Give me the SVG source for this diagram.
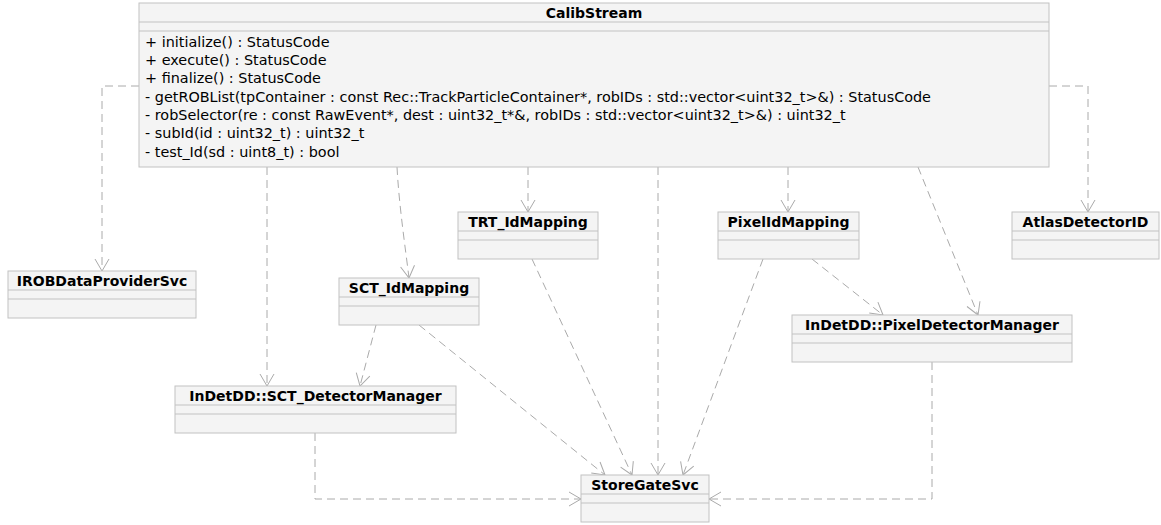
<svg xmlns="http://www.w3.org/2000/svg" width="1161" height="525" viewBox="0 0 1161 525">
<style>
.box{fill:#f4f4f4;stroke:#c2c2c2;stroke-width:1}
.sep{stroke:#c2c2c2;stroke-width:1}
.t{font-family:"DejaVu Sans","Liberation Sans",sans-serif;font-size:14px;font-weight:bold;fill:#000;text-anchor:middle}
.m{font-family:"DejaVu Sans","Liberation Sans",sans-serif;font-size:14.4px;fill:#000}
.c{fill:none;stroke:#aaaaaa;stroke-width:1;stroke-dasharray:8,5}
</style>
<defs>
<marker id="arr" markerUnits="userSpaceOnUse" markerWidth="16" markerHeight="16" refX="13" refY="8" orient="auto">
<path d="M1,1 L13,8 L1,15" fill="none" stroke="#aaaaaa" stroke-width="1" stroke-dasharray="none"/>
</marker>
</defs>
<g id="connectors">
<path class="c" d="M139,86 H102 V271" marker-end="url(#arr)"/>
<path class="c" d="M1049,86 H1088 V212" marker-end="url(#arr)"/>
<path class="c" d="M397,167 C399,205 405,245 409,278" marker-end="url(#arr)"/>
<path class="c" d="M528,167 V212" marker-end="url(#arr)"/>
<path class="c" d="M658,167 V475" marker-end="url(#arr)"/>
<path class="c" d="M788,167 V212" marker-end="url(#arr)"/>
<path class="c" d="M918,167 L978,315" marker-end="url(#arr)"/>
<path class="c" d="M267,167 V386" marker-end="url(#arr)"/>
<path class="c" d="M376,325 L360,386" marker-end="url(#arr)"/>
<path class="c" d="M419,325 L605,475" marker-end="url(#arr)"/>
<path class="c" d="M532,259 L632,475" marker-end="url(#arr)"/>
<path class="c" d="M763,259 L683,475" marker-end="url(#arr)"/>
<path class="c" d="M812,259 L883,315" marker-end="url(#arr)"/>
<path class="c" d="M315,433 V499 H581" marker-end="url(#arr)"/>
<path class="c" d="M932,362 V499 H709" marker-end="url(#arr)"/>
</g>
<g id="CalibStream">
<rect class="box" x="139" y="3" width="910" height="164"/>
<line class="sep" x1="139" y1="22" x2="1049" y2="22"/>
<line class="sep" x1="139" y1="31" x2="1049" y2="31"/>
<text class="t" x="594" y="18">CalibStream</text>
<text class="m" x="145" y="46.5">+ initialize() : StatusCode</text>
<text class="m" x="145" y="64.8">+ execute() : StatusCode</text>
<text class="m" x="145" y="83.2">+ finalize() : StatusCode</text>
<text class="m" x="145" y="101.5">- getROBList(tpContainer : const Rec::TrackParticleContainer*, robIDs : std::vector&lt;uint32_t&gt;&amp;) : StatusCode</text>
<text class="m" x="145" y="119.8">- robSelector(re : const RawEvent*, dest : uint32_t*&amp;, robIDs : std::vector&lt;uint32_t&gt;&amp;) : uint32_t</text>
<text class="m" x="145" y="138.2">- subId(id : uint32_t) : uint32_t</text>
<text class="m" x="145" y="156.5">- test_Id(sd : uint8_t) : bool</text>
</g>
<g id="IROBDataProviderSvc">
<rect class="box" x="8" y="271" width="188" height="47"/>
<line class="sep" x1="8" y1="290" x2="196" y2="290"/>
<line class="sep" x1="8" y1="299" x2="196" y2="299"/>
<text class="t" x="102" y="286">IROBDataProviderSvc</text>
</g>
<g id="SCT_IdMapping">
<rect class="box" x="339" y="278" width="140" height="47"/>
<line class="sep" x1="339" y1="297" x2="479" y2="297"/>
<line class="sep" x1="339" y1="306" x2="479" y2="306"/>
<text class="t" x="409" y="293">SCT_IdMapping</text>
</g>
<g id="TRT_IdMapping">
<rect class="box" x="458" y="212" width="140" height="47"/>
<line class="sep" x1="458" y1="231" x2="598" y2="231"/>
<line class="sep" x1="458" y1="240" x2="598" y2="240"/>
<text class="t" x="528" y="227">TRT_IdMapping</text>
</g>
<g id="PixelIdMapping">
<rect class="box" x="718" y="212" width="141" height="47"/>
<line class="sep" x1="718" y1="231" x2="859" y2="231"/>
<line class="sep" x1="718" y1="240" x2="859" y2="240"/>
<text class="t" x="788.5" y="227">PixelIdMapping</text>
</g>
<g id="AtlasDetectorID">
<rect class="box" x="1012" y="212" width="147" height="47"/>
<line class="sep" x1="1012" y1="231" x2="1159" y2="231"/>
<line class="sep" x1="1012" y1="240" x2="1159" y2="240"/>
<text class="t" x="1085.5" y="227">AtlasDetectorID</text>
</g>
<g id="PixelDetectorManager">
<rect class="box" x="792" y="315" width="280" height="47"/>
<line class="sep" x1="792" y1="334" x2="1072" y2="334"/>
<line class="sep" x1="792" y1="343" x2="1072" y2="343"/>
<text class="t" x="932" y="330">InDetDD::PixelDetectorManager</text>
</g>
<g id="SCT_DetectorManager">
<rect class="box" x="175" y="386" width="281" height="47"/>
<line class="sep" x1="175" y1="405" x2="456" y2="405"/>
<line class="sep" x1="175" y1="414" x2="456" y2="414"/>
<text class="t" x="315.5" y="401">InDetDD::SCT_DetectorManager</text>
</g>
<g id="StoreGateSvc">
<rect class="box" x="581" y="475" width="128" height="47"/>
<line class="sep" x1="581" y1="494" x2="709" y2="494"/>
<line class="sep" x1="581" y1="503" x2="709" y2="503"/>
<text class="t" x="645" y="490">StoreGateSvc</text>
</g>
</svg>
